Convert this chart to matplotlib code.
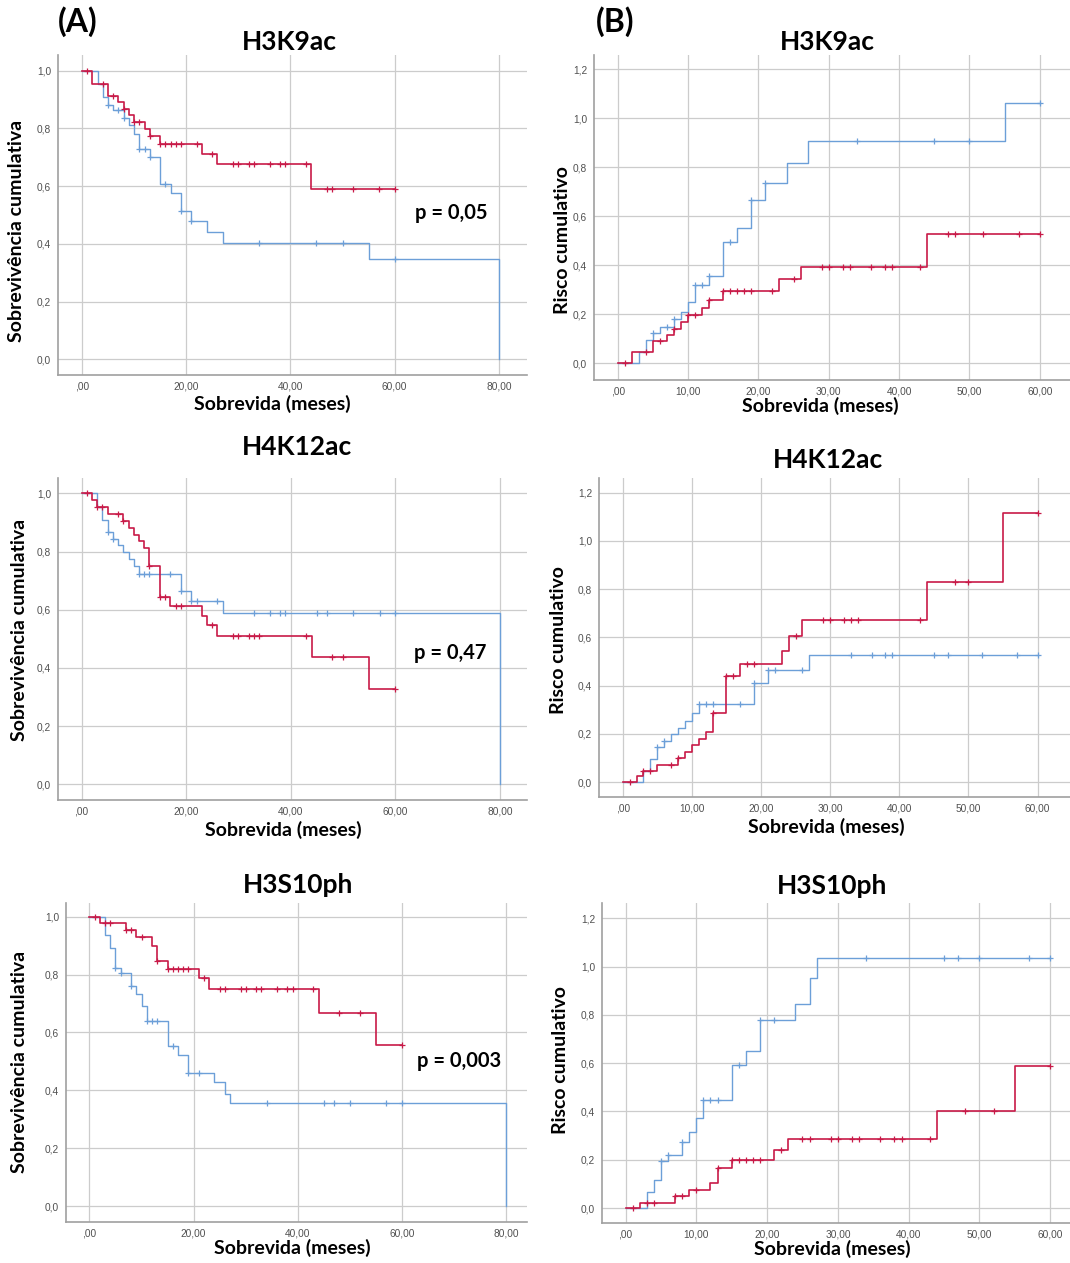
import numpy as np
import matplotlib
matplotlib.use('Agg')
import matplotlib.pyplot as plt

# Kaplan-Meier estimates read per group: event times, survival after each
# event, and censoring times.  Red = group 1, blue = group 2.

# H3K9ac
k9_red_t = [2, 5, 7, 8, 9, 10, 12, 13, 15, 23, 26, 44]
k9_red_s = [0.955, 0.912, 0.890, 0.868, 0.845, 0.822, 0.799, 0.773, 0.745, 0.710, 0.676, 0.591]
k9_red_c = [1, 4, 6, 8, 10, 11, 13, 15, 16, 17, 18, 19, 22, 25, 29, 30, 32, 33, 36, 38, 39, 43,
            47, 48, 52, 57, 60]
k9_blue_t = [3, 4, 5, 6, 8, 9, 10, 11, 13, 15, 17, 19, 21, 24, 27, 55, 80]
k9_blue_s = [0.955, 0.909, 0.882, 0.862, 0.835, 0.810, 0.780, 0.727, 0.700, 0.609, 0.576, 0.513,
             0.480, 0.442, 0.404, 0.346, 0.0]
k9_blue_c = [5, 7, 8, 11, 12, 13, 16, 19, 21, 34, 45, 50, 60]

# H4K12ac
k12_red_t = [2, 3, 5, 8, 9, 10, 11, 12, 13, 15, 17, 23, 24, 26, 44, 55]
k12_red_s = [0.977, 0.955, 0.930, 0.905, 0.882, 0.858, 0.836, 0.813, 0.750, 0.643, 0.614, 0.580,
             0.546, 0.510, 0.437, 0.327]
k12_red_c = [1, 3, 4, 7, 8, 13, 15, 16, 18, 19, 25, 29, 30, 32, 33, 34, 43, 48, 50, 60]
k12_blue_t = [3, 4, 5, 6, 7, 8, 9, 10, 11, 19, 21, 27, 80]
k12_blue_s = [0.955, 0.909, 0.866, 0.843, 0.821, 0.798, 0.775, 0.751, 0.724, 0.663, 0.629, 0.590, 0.0]
k12_blue_c = [5, 6, 11, 12, 13, 17, 19, 21, 22, 26, 33, 36, 38, 39, 45, 47, 52, 57, 60]

# H3S10ph
s10_red_t = [2, 7, 9, 12, 13, 15, 21, 23, 44, 55]
s10_red_s = [0.979, 0.953, 0.928, 0.900, 0.848, 0.820, 0.788, 0.751, 0.668, 0.556]
s10_red_c = [1, 3, 4, 7, 8, 10, 13, 15, 16, 17, 18, 19, 22, 25, 26, 29, 30, 32, 33, 36, 38, 39,
             43, 48, 52, 60]
s10_blue_t = [3, 4, 5, 6, 8, 9, 10, 11, 15, 17, 19, 24, 26, 27, 80]
s10_blue_s = [0.935, 0.892, 0.824, 0.804, 0.761, 0.731, 0.690, 0.639, 0.553, 0.521, 0.460, 0.430,
              0.386, 0.355, 0.0]
s10_blue_c = [5, 6, 8, 11, 12, 13, 16, 19, 21, 34, 45, 47, 50, 57, 60]

marks = ['H3K9ac', 'H4K12ac', 'H3S10ph']
p_values = ['p = 0,05', 'p = 0,47', 'p = 0,003']

surv_xticks = [0, 20, 40, 60, 80]
surv_xlabels = [',00', '20,00', '40,00', '60,00', '80,00']
surv_yticks = [0, 0.2, 0.4, 0.6, 0.8, 1.0]
surv_ylabels = ['0,0', '0,2', '0,4', '0,6', '0,8', '1,0']
haz_xticks = [0, 10, 20, 30, 40, 50, 60]
haz_xlabels = [',00', '10,00', '20,00', '30,00', '40,00', '50,00', '60,00']
haz_yticks = [0, 0.2, 0.4, 0.6, 0.8, 1.0, 1.2]
haz_ylabels = ['0,0', '0,2', '0,4', '0,6', '0,8', '1,0', '1,2']

RED = '#C81A48'
BLUE = '#6C9FD8'
GRID = '#CCCCCC'
BOLD = 'Lato'

W, H = 1070, 1263
fig = plt.figure(figsize=(W / 100, H / 100), dpi=100)


def rect(l, t, r, b):
    return [l / W, 1 - b / H, (r - l) / W, (b - t) / H]


def ftext(x, y, s, **kw):
    fig.text(x / W, 1 - y / H, s, ha='center', va='center', family=BOLD,
             fontweight='bold', **kw)


def curve(ax, times, levels, cens, end, color, lw, hazard=False):
    t = np.r_[0.0, times]
    s = np.r_[1.0, levels]
    keep = t <= end
    t, s = t[keep], s[keep]
    # cumulative hazard is -ln S(t)
    y = -np.log(s) if hazard else s
    tt = np.r_[t, end]
    yy = np.r_[y, y[-1]]
    ax.step(tt, yy, where='post', color=color, lw=lw, zorder=3)
    c = np.asarray(cens, dtype=float)
    c = c[c <= end]
    idx = np.searchsorted(t, c, side='right') - 1
    ax.plot(c, y[idx], ls='none', marker='+', ms=5, mew=0.9, color=color, zorder=4)


def style(ax, xt, xl, yt, yl):
    ax.set_xticks(xt)
    ax.set_xticklabels(xl)
    ax.set_yticks(yt)
    ax.set_yticklabels(yl)
    ax.grid(True, color=GRID, lw=0.9)
    ax.set_axisbelow(True)
    for side in ['top', 'right']:
        ax.spines[side].set_visible(False)
    for side in ['left', 'bottom']:
        ax.spines[side].set_color('#A0A0A0')
        ax.spines[side].set_linewidth(1.2)
    ax.tick_params(length=0, labelsize=7.3, labelcolor='#505050', pad=5)
    for lab in ax.get_xticklabels() + ax.get_yticklabels():
        lab.set_family('Liberation Sans')


surv = [
    (k9_red_t, k9_red_s, k9_red_c, k9_blue_t, k9_blue_s, k9_blue_c),
    (k12_red_t, k12_red_s, k12_red_c, k12_blue_t, k12_blue_s, k12_blue_c),
    (s10_red_t, s10_red_s, s10_red_c, s10_blue_t, s10_blue_s, s10_blue_c),
]

left_boxes = [(58, 55, 527, 375), (58, 478, 527, 800), (66, 903, 527, 1222)]
left_lims = [((-4.6, 85.4), (-0.054, 1.054)),
             ((-4.5, 85.2), (-0.054, 1.053)),
             ((-4.5, 84.0), (-0.055, 1.047))]
right_boxes = [(594, 55, 1070, 380), (599, 478, 1070, 797), (602, 903, 1070, 1223)]
right_lims = [((-3.37, 64.3), (-0.068, 1.258)),
              ((-3.43, 64.7), (-0.062, 1.261)),
              ((-3.33, 62.8), (-0.062, 1.263))]

title_pos_a = [(289, 42), (297, 447), (298, 885)]
title_pos_b = [(827, 42), (828, 460), (832, 886)]
xlab_a = [(272, 404), (283, 830), (292, 1248)]
xlab_b = [(820, 406), (826, 827), (832, 1249)]
ylab_a = [(17, 231), (20, 630), (20, 1062)]
ylab_b = [(562, 240), (558, 640), (560, 1060)]
pval_pos = [(451, 213), (450, 653), (459, 1061)]

for i, (rt, rs, rc, bt, bs, bc) in enumerate(surv):
    # (A) cumulative survival
    ax = fig.add_axes(rect(*left_boxes[i]))
    curve(ax, bt, bs, bc, 80, BLUE, 1.0)
    curve(ax, rt, rs, rc, 60, RED, 1.2)
    style(ax, surv_xticks, surv_xlabels, surv_yticks, surv_ylabels)
    ax.set_xlim(*left_lims[i][0])
    ax.set_ylim(*left_lims[i][1])

    # (B) cumulative risk
    bx = fig.add_axes(rect(*right_boxes[i]))
    curve(bx, bt, bs, bc, 60, BLUE, 1.0, hazard=True)
    curve(bx, rt, rs, rc, 60, RED, 1.2, hazard=True)
    style(bx, haz_xticks, haz_xlabels, haz_yticks, haz_ylabels)
    bx.set_xlim(*right_lims[i][0])
    bx.set_ylim(*right_lims[i][1])

    ftext(*title_pos_a[i], marks[i], fontsize=19)
    ftext(*title_pos_b[i], marks[i], fontsize=19)
    ftext(*xlab_a[i], 'Sobrevida (meses)', fontsize=14)
    ftext(*xlab_b[i], 'Sobrevida (meses)', fontsize=14)
    ftext(*ylab_a[i], 'Sobrevivência cumulativa', fontsize=14, rotation=90)
    ftext(*ylab_b[i], 'Risco cumulativo', fontsize=14, rotation=90)
    ftext(*pval_pos[i], p_values[i], fontsize=14.5)

ftext(78, 22, '(A)', fontsize=23)
ftext(615, 22, '(B)', fontsize=23)

fig.savefig('out.png', dpi=100, facecolor='white')
